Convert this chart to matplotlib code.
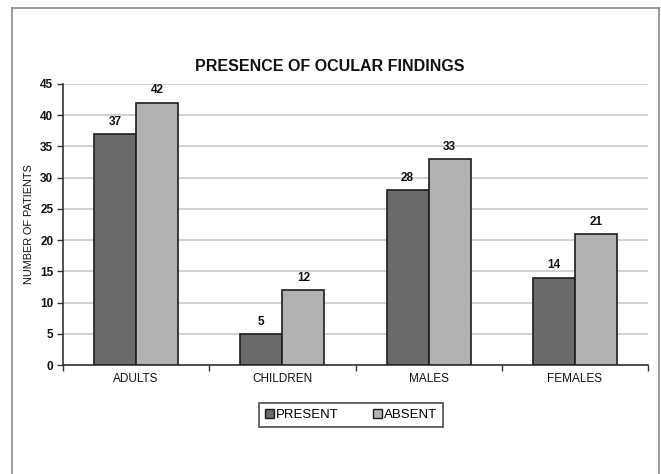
import matplotlib.pyplot as plt
from matplotlib.lines import Line2D
from matplotlib.patches import Patch
import numpy as np

plt.rcParams['font.family'] = ['Liberation Sans', 'DejaVu Sans']

# data
categories = ['ADULTS', 'CHILDREN', 'MALES', 'FEMALES']
present = [37, 5, 28, 14]
absent = [42, 12, 33, 21]
series_names = ['PRESENT', 'ABSENT']
y_ticks = [0, 5, 10, 15, 20, 25, 30, 35, 40, 45]

dark = '#6a6a6a'
light = '#b2b2b2'
edge = '#1e1e1e'

W, H = 661, 474
fig = plt.figure(figsize=(W / 100, H / 100), dpi=100)
fig.patch.set_facecolor('white')

# plot area in pixels: x 63..648, y 84..365
ax = fig.add_axes([63 / W, 1 - 365 / H, (648 - 63) / W, (365 - 84) / H])

x = np.arange(len(categories)) + 0.5
bw = 0.288
b1 = ax.bar(x - bw / 2, present, bw, color=dark, edgecolor=edge, linewidth=1.2, zorder=3)
b2 = ax.bar(x + bw / 2, absent, bw, color=light, edgecolor=edge, linewidth=1.2, zorder=3)

for bars, vals in ((b1, present), (b2, absent)):
    for rect, v in zip(bars, vals):
        ax.annotate(str(v), (rect.get_x() + rect.get_width() / 2, v),
                    xytext=(0, 4.5), textcoords='offset points',
                    ha='center', va='bottom', fontsize=8.5, fontweight='bold', color='#111111')

ax.set_xlim(0, 4)
ax.set_ylim(0, 45)
ax.set_yticks(y_ticks)
ax.set_yticklabels([str(t) for t in y_ticks], fontsize=8.5, fontweight='bold', color='#111111')
ax.set_xticks([0, 1, 2, 3, 4])
ax.set_xticklabels([])
ax.set_xticks(x, minor=True)
ax.set_xticklabels(categories, minor=True, fontsize=8.5, color='#111111')
ax.tick_params(axis='x', which='minor', length=0, pad=6)
ax.tick_params(axis='x', which='major', length=4, width=1, color='#333333', direction='out')
ax.tick_params(axis='y', length=4, width=1, color='#333333', direction='out', pad=3)

ax.yaxis.grid(True, color='#c6c6c6', linewidth=1.1, zorder=0)
ax.set_axisbelow(True)
for s in ('top', 'right'):
    ax.spines[s].set_visible(False)
for s in ('left', 'bottom'):
    ax.spines[s].set_color('#333333')
    ax.spines[s].set_linewidth(1.2)

ax.set_ylabel('NUMBER OF PATIENTS', fontsize=7.8, color='#111111', labelpad=4)

fig.text(330 / W, 1 - 67 / H, 'PRESENCE OF OCULAR FINDINGS', ha='center', va='center',
         fontsize=11.5, fontweight='bold', color='#111111')

handles = [Patch(facecolor=dark, edgecolor=edge, linewidth=1),
           Patch(facecolor=light, edgecolor=edge, linewidth=1)]
leg = fig.legend(handles, series_names, loc='center', ncol=2,
                 bbox_to_anchor=(351 / W, 1 - 415 / H), frameon=True, fancybox=False,
                 fontsize=9.5, handlelength=0.7, handleheight=0.7, handletextpad=0.15,
                 columnspacing=2.6, borderpad=0.45, borderaxespad=0)
leg.get_frame().set_edgecolor('#222222')
leg.get_frame().set_linewidth(1.2)

# outer frame (no bottom edge)
fc = '#8a8a8a'
fig.add_artist(Line2D([12 / W, 12 / W], [0, 1 - 8 / H], color=fc, linewidth=1.2))
fig.add_artist(Line2D([12 / W, 659 / W], [1 - 8 / H, 1 - 8 / H], color=fc, linewidth=1.2))
fig.add_artist(Line2D([659 / W, 659 / W], [0, 1 - 8 / H], color=fc, linewidth=1.2))

fig.savefig('out.png', dpi=100)
